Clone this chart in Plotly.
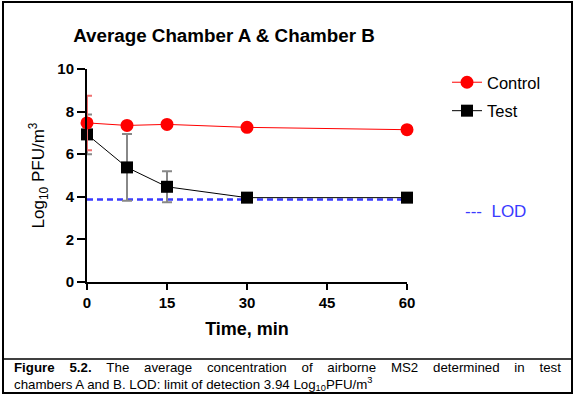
import plotly.graph_objects as go

# ---- data ----
time_min = [0, 7.5, 15, 30, 60]
control = [7.47, 7.35, 7.40, 7.26, 7.15]
control_err = [1.28, 0, 0, 0, 0]
test = [6.93, 5.38, 4.47, 3.96, 3.96]
test_err = [0.93, 1.57, 0.73, 0, 0]
lod_value = 3.87
x_ticks = [0, 15, 30, 45, 60]
y_ticks = [0, 2, 4, 6, 8, 10]

W, H = 575, 399
L, R, T, B = 87, 407, 69, 282  # plot area in pixels


def px(x):
    return (x - L) / (R - L)


def py(y):
    return (B - y) / (B - T)


FONT = "Liberation Sans, Arial, sans-serif"

fig = go.Figure()

fig.add_trace(go.Scatter(
    x=[time_min[0], time_min[-1]], y=[lod_value, lod_value], mode="lines",
    line=dict(color="#3a3aff", width=2.5, dash="6px,4px"),
    showlegend=False, hoverinfo="skip", cliponaxis=False))

fig.add_trace(go.Scatter(
    x=time_min, y=test, mode="lines+markers", name="Test",
    legendrank=2, legendgroup="test",
    line=dict(color="black", width=1),
    marker=dict(symbol="square", size=12, color="black"),
    error_y=dict(type="data", array=test_err, visible=True,
                 color="#888888", thickness=2, width=5),
    cliponaxis=False))

fig.add_trace(go.Scatter(
    x=time_min, y=control, mode="lines+markers", name="Control",
    legendrank=1, legendgroup="control",
    line=dict(color="red", width=1),
    marker=dict(symbol="circle", size=13, color="red"),
    error_y=dict(type="data", array=control_err, visible=True,
                 color="#f07070", thickness=2, width=5),
    cliponaxis=False))

fig.update_layout(
    width=W, height=H,
    margin=dict(l=L, r=W - R, t=T, b=H - B),
    paper_bgcolor="white", plot_bgcolor="white",
    font=dict(family=FONT, color="black"),
    showlegend=True,
    legend=dict(x=px(447), y=py(65), xanchor="left", yanchor="top",
                font=dict(size=16.5, family=FONT), traceorder="grouped",
                tracegroupgap=4, itemwidth=30, bgcolor="rgba(0,0,0,0)"),
    title=dict(text="<b>Average Chamber A &amp; Chamber B</b>",
               font=dict(size=18.8, family=FONT, color="black"),
               x=224 / W, xref="container", xanchor="center",
               y=1 - 35 / H, yref="container", yanchor="middle"),
    xaxis=dict(range=[0, 60], tickvals=x_ticks, ticktext=[str(v) for v in x_ticks],
               showgrid=False, zeroline=False, showline=True,
               linecolor="black", linewidth=2,
               ticks="outside", ticklen=6, tickwidth=2, tickcolor="black",
               tickfont=dict(size=15, family=FONT, weight="bold"),
               title=dict(text="<b>Time, min</b>", font=dict(size=18, family=FONT),
                          standoff=12)),
    yaxis=dict(range=[0, 10], tickvals=y_ticks, ticktext=[str(v) for v in y_ticks],
               showgrid=False, zeroline=False, showline=True,
               linecolor="black", linewidth=2,
               ticks="outside", ticklen=8, tickwidth=2, tickcolor="black",
               tickfont=dict(size=15, family=FONT, weight="bold"),
               title=dict(text="Log<sub>10</sub> PFU/m<sup>3</sup>",
                          font=dict(size=17, family=FONT), standoff=8)),
)

NB = "\u00a0"

# LOD legend text
fig.add_annotation(text="---" + NB * 2 + "LOD", x=px(463), y=py(212),
                   xref="paper", yref="paper",
                   xanchor="left", yanchor="middle", showarrow=False,
                   font=dict(size=17, family=FONT, color="#3a3aff"))

# frame and caption divider
fig.add_shape(type="rect", xref="paper", yref="paper",
              x0=px(3), x1=px(572), y0=py(393), y1=py(2),
              line=dict(color="black", width=2), layer="above")
fig.add_shape(type="line", xref="paper", yref="paper",
              x0=px(3), x1=px(572), y0=py(359), y1=py(359),
              line=dict(color="black", width=1.5), layer="above")

gap = NB * 4
line1 = ("<b>Figure" + gap + "5.2.</b>" + gap + gap.join(
    ["The", "average", "concentration", "of", "airborne", "MS2",
     "determined", "in", "test"]))
fig.add_annotation(text=line1, x=px(12), y=py(367), xref="paper", yref="paper",
                   xanchor="left", yanchor="middle", showarrow=False,
                   font=dict(size=13.3, family=FONT, color="black"))
fig.add_annotation(text="chambers A and B. LOD: limit of detection 3.94 Log<sub>10</sub>PFU/m<sup>3</sup>",
                   x=px(12), y=py(384), xref="paper", yref="paper",
                   xanchor="left", yanchor="middle", showarrow=False,
                   font=dict(size=13.3, family=FONT, color="black"))

fig.write_html("out.html", config={"displayModeBar": False},
               post_script="document.body.style.margin='0';")
